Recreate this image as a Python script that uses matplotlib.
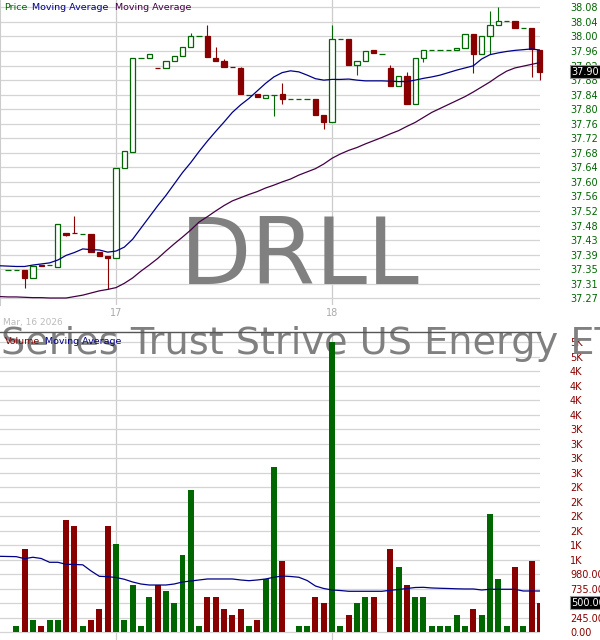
import numpy as np
import matplotlib.pyplot as plt
from matplotlib.patches import Rectangle
import matplotlib.transforms as mtransforms

nan = np.nan

# 15 minute bars: end of Mar 16 (0-13), Mar 17 (14-39), Mar 18 (40-65)
opens = [nan, 37.351, 37.351, 37.351, 37.328, 37.3645, 37.364, 37.360, 37.454, 37.455, 37.451, 37.451, 37.401, 37.390,
         37.384, 37.635, 37.681, 37.942, 37.942, 37.915, 37.914, 37.934, 37.947, 37.973, 38.004, 38.004, 37.942, 37.934,
         37.918, 37.914, 37.840, 37.841, 37.832, 37.839, 37.841, 37.827, 37.827, 37.827, 37.827, 37.784,
         37.763, 37.995, 37.995, 37.922, 37.934, 37.964, 37.954, 37.914, 37.864, 37.892, 37.814, 37.942, 37.965,
         37.965, 37.965, 37.966, 37.972, 38.009, 37.954, 38.004, 38.035, 38.046, 38.046, 38.026, 38.026, 37.965]
highs = [nan, 37.351, 37.351, 37.351, 37.363, 37.3645, 37.364, 37.479, 37.454, 37.502, 37.451, 37.451, 37.401, 37.390,
         37.635, 37.683, 37.942, 37.942, 37.953, 37.915, 37.934, 37.947, 37.973, 38.013, 38.004, 38.035, 37.974, 37.940,
         37.918, 37.919, 37.840, 37.841, 37.839, 37.839, 37.874, 37.827, 37.827, 37.827, 37.827, 37.784,
         38.035, 37.995, 37.995, 37.934, 37.963, 37.964, 37.954, 37.923, 37.892, 37.905, 37.942, 37.965, 37.965,
         37.965, 37.965, 37.972, 38.009, 38.009, 38.004, 38.074, 38.086, 38.046, 38.046, 38.026, 38.026, 37.965]
lows = [nan, 37.351, 37.351, 37.301, 37.328, 37.3637, 37.364, 37.360, 37.447, 37.454, 37.451, 37.402, 37.391, 37.298,
        37.384, 37.635, 37.681, 37.942, 37.942, 37.914, 37.914, 37.934, 37.947, 37.973, 38.004, 37.945, 37.935, 37.918,
        37.917, 37.843, 37.840, 37.835, 37.832, 37.782, 37.814, 37.827, 37.827, 37.827, 37.784, 37.746,
        37.763, 37.995, 37.924, 37.895, 37.934, 37.956, 37.954, 37.865, 37.864, 37.815, 37.814, 37.932, 37.965,
        37.965, 37.965, 37.966, 37.972, 37.902, 37.954, 37.953, 38.035, 38.046, 38.027, 38.026, 37.891, 37.881]
closes = [nan, 37.351, 37.351, 37.330, 37.363, 37.3637, 37.364, 37.479, 37.450, 37.454, 37.451, 37.402, 37.391, 37.386,
          37.635, 37.683, 37.942, 37.942, 37.953, 37.914, 37.934, 37.947, 37.973, 38.004, 38.004, 37.945, 37.935, 37.918,
          37.917, 37.843, 37.840, 37.835, 37.839, 37.839, 37.829, 37.827, 37.827, 37.827, 37.784, 37.764,
          37.995, 37.995, 37.924, 37.934, 37.963, 37.956, 37.954, 37.865, 37.892, 37.815, 37.942, 37.965, 37.965,
          37.965, 37.965, 37.972, 38.009, 37.955, 38.004, 38.035, 38.046, 38.046, 38.027, 38.026, 37.967, 37.904]

ma_fast = [37.363, 37.362, 37.361, 37.361, 37.365, 37.368, 37.371, 37.379, 37.392, 37.400, 37.410, 37.408, 37.407, 37.401,
           37.404, 37.415, 37.437, 37.468, 37.499, 37.530, 37.559, 37.591, 37.623, 37.651, 37.682, 37.711, 37.738, 37.764,
           37.791, 37.812, 37.830, 37.851, 37.872, 37.890, 37.902, 37.907, 37.904, 37.895, 37.885, 37.881,
           37.883, 37.883, 37.884, 37.881, 37.879, 37.879, 37.879, 37.878, 37.877, 37.877, 37.881, 37.886, 37.890,
           37.895, 37.902, 37.909, 37.915, 37.921, 37.940, 37.952, 37.957, 37.961, 37.964, 37.966, 37.968, 37.965]
ma_slow = [37.277, 37.276, 37.276, 37.275, 37.274, 37.274, 37.273, 37.273, 37.273, 37.277, 37.281, 37.287, 37.293, 37.297,
           37.302, 37.314, 37.329, 37.348, 37.365, 37.383, 37.404, 37.424, 37.443, 37.463, 37.485, 37.500, 37.516, 37.531,
           37.544, 37.553, 37.562, 37.570, 37.580, 37.588, 37.597, 37.605, 37.616, 37.625, 37.634, 37.647,
           37.663, 37.675, 37.685, 37.693, 37.703, 37.712, 37.721, 37.731, 37.740, 37.752, 37.763, 37.777, 37.791,
           37.802, 37.813, 37.824, 37.835, 37.848, 37.862, 37.876, 37.892, 37.906, 37.915, 37.920, 37.925, 37.930]

volumes = [0, 0, 100, 1400, 200, 100, 200, 200, 1900, 1800, 100, 200, 400, 1800,
           1500, 200, 800, 100, 600, 800, 700, 500, 1300, 2400, 100, 600, 600, 400,
           300, 400, 100, 200, 900, 2800, 1200, 0, 100, 100, 600, 500,
           4900, 100, 300, 500, 600, 600, 0, 1400, 1100, 800, 600, 600, 100,
           100, 100, 300, 100, 400, 300, 2000, 900, 100, 1100, 100, 1200, 500]
vol_ma = [1284, 1281, 1278, 1244, 1268, 1247, 1183, 1183, 1149, 1146, 1140, 1036, 946, 940,
          926, 896, 850, 816, 799, 799, 799, 816, 850, 867, 884, 901, 901, 901,
          901, 884, 872, 884, 901, 930, 951, 943, 930, 875, 782, 740,
          715, 706, 693, 693, 693, 693, 693, 710, 723, 740, 757, 760, 749,
          744, 740, 735, 732, 732, 715, 727, 727, 727, 727, 698, 698, 698]

day_ticks = [14, 40]
day_labels = ['17', '18']
first_day = 'Mar, 16 2026'

price_tick_labels = ['37.27', '37.31', '37.35', '37.39', '37.43', '37.48', '37.52', '37.56', '37.60', '37.64', '37.68',
                     '37.72', '37.76', '37.80', '37.84', '37.88', '37.92', '37.96', '38.00', '38.04', '38.08']
vol_tick_labels = ['0.00', '245.00', '490.00', '735.00', '980.00', '1K', '1K', '2K', '2K', '2K', '2K',
                   '3K', '3K', '3K', '3K', '4K', '4K', '4K', '4K', '5K', '5K']

symbol = 'DRLL'
name = 'Series Trust Strive US Energy ETF'

GREEN = '#006600'
RED = '#880000'
BLUE = '#000088'
PURPLE = '#440044'
GRID = '#d4d4d4'
W, H = 600, 640


def fx(px):
    return px / W


def fy(py):
    return 1 - py / H


fig = plt.figure(figsize=(6, 6.4), dpi=100)
axp = fig.add_axes([0, fy(305), fx(540), 305 / H])
axv = fig.add_axes([0, 0, fx(540), 308 / H])

x = np.arange(len(closes))

# ---- price pane ----
bw = 0.64
for i in x:
    o, h, l, c = opens[i], highs[i], lows[i], closes[i]
    if np.isnan(o):
        continue
    col = GREEN if c >= o else RED
    axp.vlines(i, l, h, color=col, lw=0.8, zorder=3, clip_on=False)
    axp.add_patch(Rectangle((i - bw / 2, min(o, c)), bw, abs(c - o),
                            facecolor='white' if c >= o else col, edgecolor=col,
                            lw=0.9, zorder=4, clip_on=False))

axp.plot(x, ma_fast, color=BLUE, lw=0.9, zorder=5)
axp.plot(x, ma_slow, color=PURPLE, lw=0.9, zorder=5)

p_lo, p_step = 37.2722, 0.0406
axp.set_xlim(0.04, 65.02)
axp.set_ylim(37.2535, 38.1046)
axp.set_yticks(p_lo + p_step * np.arange(len(price_tick_labels)))
axp.set_yticklabels(price_tick_labels)
axp.yaxis.tick_right()
axp.tick_params(axis='y', length=0, pad=21.6, labelsize=7, labelcolor=GREEN)
axp.set_xticks(day_ticks)
axp.set_xticklabels(day_labels)
axp.tick_params(axis='x', length=0, pad=2.5, labelsize=7, labelcolor='#aaaaaa')
axp.set_axisbelow(True)
axp.grid(True, axis='y', color=GRID, lw=0.9)
axp.grid(True, axis='x', color='#cccccc', lw=0.9)
for s in ['top', 'right', 'bottom']:
    axp.spines[s].set_visible(False)
axp.spines['left'].set_color('#cccccc')

axp.text(fx(300), fy(283.5), symbol, transform=fig.transFigure, ha='center', va='baseline',
         fontsize=67, color='#808080', zorder=1)

tr = mtransforms.blended_transform_factory(axp.transAxes, axp.transData)
axp.text(1 + 31 / 540, closes[-1], f'{closes[-1]:.2f}', transform=tr, ha='left', va='center',
         fontsize=7, color='white', zorder=10, clip_on=False,
         bbox=dict(boxstyle='square,pad=0.15', fc='black', ec='#999999', lw=0.8))

fig.text(fx(4), fy(7), 'Price', fontsize=6.8, color=GREEN, va='center')
fig.text(fx(32), fy(7), 'Moving Average', fontsize=6.8, color=BLUE, va='center')
fig.text(fx(115), fy(7), 'Moving Average', fontsize=6.8, color=PURPLE, va='center')
fig.text(fx(3), fy(323), first_day, fontsize=6.5, color='#bbbbbb', va='center')

# ---- volume pane ----
vcol = [GREEN if (not np.isnan(o) and c >= o) else RED for o, c in zip(opens, closes)]
axv.bar(x, volumes, width=0.72, color=vcol, zorder=2)
axv.plot(x, vol_ma, color=BLUE, lw=0.9, zorder=3)

v_step = 245
axv.set_xlim(0.04, 65.02)
axv.set_ylim(-130.1, 5074)
axv.set_yticks(v_step * np.arange(len(vol_tick_labels)))
axv.set_yticklabels(vol_tick_labels)
axv.yaxis.tick_right()
axv.tick_params(axis='y', length=0, pad=21.6, labelsize=7, labelcolor=RED)
axv.set_xticks(day_ticks)
axv.tick_params(axis='x', length=0, labelbottom=False)
axv.set_axisbelow(True)
axv.grid(True, axis='y', color=GRID, lw=0.9)
axv.grid(True, axis='x', color='#cccccc', lw=0.9)
for s in ['left', 'right', 'bottom']:
    axv.spines[s].set_visible(False)
axv.spines['top'].set_color('#555555')
axv.spines['top'].set_linewidth(1.0)
axv.spines['top'].set_zorder(6)

axv.text(fx(1), fy(354), name, transform=fig.transFigure, ha='left', va='baseline',
         fontsize=27.5, color='#808080', zorder=1, clip_on=False)

trv = mtransforms.blended_transform_factory(axv.transAxes, axv.transData)
axv.text(1 + 31 / 540, volumes[-1], f'{volumes[-1]:.2f}', transform=trv, ha='left', va='center',
         fontsize=7, color='white', zorder=10, clip_on=False,
         bbox=dict(boxstyle='square,pad=0.15', fc='black', ec='#999999', lw=0.8))

axv.text(fx(5), fy(341), 'Volume', transform=fig.transFigure, fontsize=6.8, color=RED, va='center', zorder=8)
axv.text(fx(45), fy(341), 'Moving Average', transform=fig.transFigure, fontsize=6.8, color=BLUE,
         va='center', zorder=8)

fig.savefig('out.png', dpi=100)
